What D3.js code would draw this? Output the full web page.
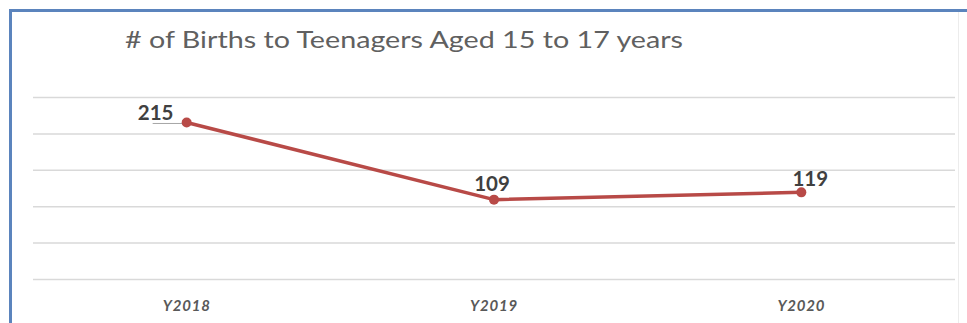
<!DOCTYPE html>
<html>
<head>
<meta charset="utf-8">
<script src="https://cdn.jsdelivr.net/npm/d3@7"></script>
<style>
  html, body { margin: 0; padding: 0; background: #ffffff; }
  svg { display: block; }
</style>
</head>
<body>
<svg id="chart" width="967" height="323"></svg>
<script>
// Births to teenagers aged 15 to 17, by year
const years = ["Y2018", "Y2019", "Y2020"];
const births = [215, 109, 119];
const yTicks = [0, 50, 100, 150, 200, 250];
const chartTitle = "# of Births to Teenagers Aged 15 to 17 years";

// per-label nudges for the value labels, in pixels (dx, dy)
const labelOffsets = [[-31, -2], [-2, -9], [9, -6]];

const W = 967, H = 323;
const svg = d3.select("#chart");

// frame
svg.append("rect").attr("x", 0).attr("y", 0).attr("width", W).attr("height", H).attr("fill", "#ffffff");
svg.append("line").attr("x1", 9).attr("x2", 967).attr("y1", 10.5).attr("y2", 10.5)
  .attr("stroke", "#5b84bd").attr("stroke-width", 3);
svg.append("line").attr("x1", 10.5).attr("x2", 10.5).attr("y1", 9).attr("y2", H)
  .attr("stroke", "#5b84bd").attr("stroke-width", 3);
svg.append("line").attr("x1", 958.5).attr("x2", 958.5).attr("y1", 12).attr("y2", H)
  .attr("stroke", "#ececec").attr("stroke-width", 1);

const plot = { left: 33, right: 955, top: 97, bottom: 279 };

const x = d3.scaleBand().domain(years).range([plot.left, plot.right]);
const y = d3.scaleLinear().domain([0, 250]).range([plot.bottom, plot.top]);

// horizontal gridlines
const yAxis = d3.axisLeft(y).tickValues(yTicks).tickSize(-(plot.right - plot.left)).tickFormat("");
const gy = svg.append("g").attr("transform", `translate(${plot.left},0)`).call(yAxis);
gy.select(".domain").remove();
gy.selectAll(".tick line").attr("stroke", "#d9d9d9").attr("stroke-width", 1.5);

// category labels
const xAxis = d3.axisBottom(x).tickSize(0).tickPadding(0);
const gx = svg.append("g").attr("transform", `translate(0,${plot.bottom})`).call(xAxis);
gx.select(".domain").remove();
gx.selectAll(".tick text")
  .attr("y", 32).attr("dy", 0)
  .attr("font-family", "Lato, 'Open Sans', sans-serif")
  .attr("font-size", 15).attr("font-style", "italic").attr("font-weight", "bold")
  .attr("letter-spacing", 0.8)
  .attr("fill", "#595959");

// title
svg.append("text")
  .attr("x", 125).attr("y", 48)
  .attr("font-family", "Lato, 'Open Sans', sans-serif")
  .attr("font-size", 23.5)
  .attr("fill", "#606060")
  .attr("textLength", 558).attr("lengthAdjust", "spacingAndGlyphs")
  .text(chartTitle);

const pts = years.map((c, i) => ({ c, v: births[i], i }));
const cx = d => x(d.c) + x.bandwidth() / 2;

// leader line from the first label to its point
svg.append("line")
  .attr("x1", cx(pts[0]) - 34).attr("x2", cx(pts[0]) - 3)
  .attr("y1", y(pts[0].v) + 1).attr("y2", y(pts[0].v) + 1)
  .attr("stroke", "#a6a6a6").attr("stroke-width", 1);

// series line
const line = d3.line().x(cx).y(d => y(d.v));
svg.append("path").datum(pts)
  .attr("d", line)
  .attr("fill", "none")
  .attr("stroke", "#b84a47")
  .attr("stroke-width", 3.5)
  .attr("stroke-linejoin", "round");

// markers
svg.selectAll("circle.pt").data(pts).enter().append("circle")
  .attr("class", "pt")
  .attr("cx", cx).attr("cy", d => y(d.v)).attr("r", 5)
  .attr("fill", "#b84a47");

// value labels
svg.selectAll("text.val").data(pts).enter().append("text")
  .attr("class", "val")
  .attr("x", d => cx(d) + labelOffsets[d.i][0])
  .attr("y", d => y(d.v) + labelOffsets[d.i][1])
  .attr("text-anchor", "middle")
  .attr("font-family", "Lato, 'Open Sans', sans-serif")
  .attr("font-size", 20.5).attr("font-weight", "bold")
  .attr("fill", "#404040")
  .text(d => d.v);
</script>
</body>
</html>
